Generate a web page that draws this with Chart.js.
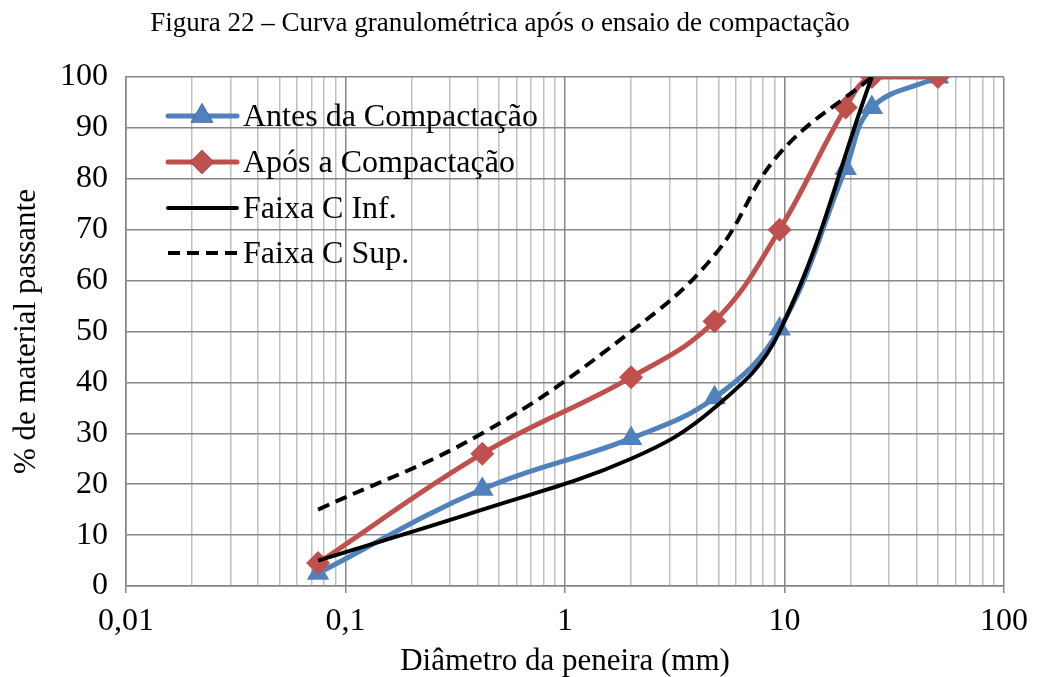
<!DOCTYPE html>
<html>
<head>
<meta charset="utf-8">
<script src="https://cdn.jsdelivr.net/npm/chart.js@4.4.1/dist/chart.umd.min.js"></script>
<style>
  html, body { margin: 0; padding: 0; background: #fff; }
  #wrap { width: 1037px; height: 677px; }
</style>
</head>
<body>
<div id="wrap"><canvas id="granChart" width="1037" height="677"></canvas></div>
<script>
// peneiras (mm) dos ensaios
var sieves = [0.075, 0.42, 2.0, 4.8, 9.5, 19, 25, 50];
var antes = [2.5, 19, 29, 37, 50.5, 82, 94, 100];
var apos = [4.5, 26, 41, 52, 70, 94, 100, 100];

// limites da Faixa C
var faixaSieves = [0.075, 0.42, 2.0, 4.8, 9.5, 25];
var faixaInf = [5, 15, 25, 35, 50, 100];
var faixaSup = [15, 30, 50, 65, 85, 100];

var xDecades = [0.01, 0.1, 1, 10, 100];
var yTicks = [0, 10, 20, 30, 40, 50, 60, 70, 80, 90, 100];

var serif = "'Liberation Serif', 'Times New Roman', serif";

function toXY(xs, ys) {
  return xs.map(function (x, i) { return { x: x, y: ys[i] }; });
}

function isDecade(v) {
  return xDecades.some(function (d) { return Math.abs(d - v) < d * 1e-6; });
}

// titulo e legenda desenhados a mao (legenda fica dentro do grafico)
var extras = {
  id: "extras",
  afterDraw: function (chart) {
    var ctx = chart.ctx;
    ctx.save();
    ctx.fillStyle = "#000";
    ctx.font = "27px " + serif;
    ctx.textAlign = "center";
    ctx.textBaseline = "middle";
    ctx.fillText("Figura 22 – Curva granulométrica após o ensaio de compactação", 500, 24);

    var rows = [116, 162, 208, 253];
    ctx.font = "32px " + serif;
    ctx.textAlign = "left";
    chart.data.datasets.forEach(function (ds, i) {
      var y = rows[i];
      ctx.beginPath();
      ctx.strokeStyle = ds.borderColor;
      ctx.lineWidth = ds.borderWidth;
      ctx.lineCap = ds.borderDash ? "butt" : "round";
      ctx.setLineDash(ds.borderDash || []);
      ctx.moveTo(168, y);
      ctx.lineTo(237, y);
      ctx.stroke();
      ctx.setLineDash([]);
      if (ds.pointRadius > 0) {
        Chart.helpers.drawPoint(ctx, {
          pointStyle: ds.pointStyle,
          radius: ds.pointRadius,
          rotation: 0,
          borderWidth: 0
        }, 202, y);
        ctx.fillStyle = ds.pointBackgroundColor;
        ctx.fill();
      }
      ctx.fillStyle = "#000";
      ctx.fillText(ds.label, 243, y + 2);
    });
    ctx.restore();
  }
};

var ctx1 = document.getElementById("granChart").getContext("2d");

var granChart = new Chart(ctx1, {
  type: "line",
  data: {
    datasets: [
      {
        label: "Antes da Compactação",
        data: toXY(sieves, antes),
        borderColor: "#4F81BD",
        backgroundColor: "#4F81BD",
        pointBackgroundColor: "#4F81BD",
        pointBorderWidth: 0,
        borderWidth: 5,
        pointStyle: "triangle",
        pointRadius: 13,
        tension: 0.4,
        order: 4,
      },
      {
        label: "Após a Compactação",
        data: toXY(sieves, apos),
        borderColor: "#C0504D",
        backgroundColor: "#C0504D",
        pointBackgroundColor: "#C0504D",
        pointBorderWidth: 0,
        borderWidth: 5,
        pointStyle: "rectRot",
        pointRadius: 12,
        tension: 0.4,
        order: 3,
      },
      {
        label: "Faixa C Inf.",
        data: toXY(faixaSieves, faixaInf),
        borderColor: "#000000",
        borderWidth: 4,
        pointRadius: 0,
        tension: 0.4,
        order: 2,
      },
      {
        label: "Faixa C Sup.",
        data: toXY(faixaSieves, faixaSup),
        borderColor: "#000000",
        borderWidth: 4,
        borderDash: [12, 7],
        pointRadius: 0,
        tension: 0.4,
        order: 1,
      },
    ],
  },
  options: {
    responsive: false,
    animation: false,
    layout: { padding: { top: 77, right: 31, left: 0, bottom: 0 } },
    plugins: {
      legend: { display: false },
      tooltip: { enabled: false },
    },
    scales: {
      x: {
        type: "logarithmic",
        min: 0.01,
        max: 100,
        afterBuildTicks: function (scale) {
          var t = [];
          for (var e = -2; e < 2; e++) {
            for (var m = 1; m < 10; m++) {
              t.push({ value: Number((m * Math.pow(10, e)).toPrecision(3)) });
            }
          }
          t.push({ value: 100 });
          scale.ticks = t;
        },
        afterFit: function (scale) { scale.height = 91; },
        ticks: {
          autoSkip: false,
          maxRotation: 0,
          padding: 9,
          color: "#000",
          font: { family: serif, size: 32 },
          callback: function (v) {
            return isDecade(v) ? String(v).replace(".", ",") : "";
          },
        },
        grid: {
          color: function (c) { return isDecade(c.tick.value) ? "#868686" : "#BFBFBF"; },
          tickColor: function (c) { return isDecade(c.tick.value) ? "#868686" : "rgba(0,0,0,0)"; },
          lineWidth: 1.5,
          tickLength: 7,
        },
        border: { color: "#868686", width: 1.5 },
        title: {
          display: true,
          text: "Diâmetro da peneira (mm)",
          color: "#000",
          font: { family: serif, size: 31 },
          padding: { top: 0, bottom: -3 },
        },
      },
      y: {
        min: 0,
        max: 100,
        afterBuildTicks: function (scale) {
          scale.ticks = yTicks.map(function (v) { return { value: v }; });
        },
        afterFit: function (scale) { scale.width = 126; },
        ticks: {
          padding: 18,
          color: "#000",
          font: { family: serif, size: 32 },
        },
        grid: {
          color: "#868686",
          lineWidth: 1.5,
          drawTicks: false,
        },
        border: { color: "#868686", width: 1.5 },
        title: {
          display: true,
          text: "% de material passante",
          color: "#000",
          font: { family: serif, size: 31 },
          padding: { top: 8, bottom: 0 },
        },
      },
    },
  },
  plugins: [extras],
});
</script>
</body>
</html>
